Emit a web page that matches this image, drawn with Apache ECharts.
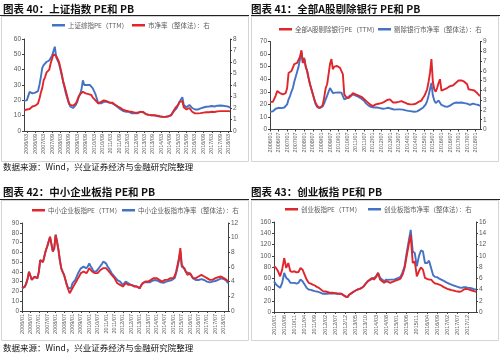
<!DOCTYPE html>
<html><head><meta charset="utf-8">
<script src="https://cdn.jsdelivr.net/npm/echarts@6/dist/echarts.min.js"></script>
<style>html,body{margin:0;padding:0;background:#fff}#c{width:500px;height:357px}</style>
</head><body><div id="c"></div>
<script>
function months(y0, m0, n) {
  const a = [];
  for (let i = 0; i < n; i++) {
    const y = y0 + Math.floor((m0 - 1 + i) / 12), m = (m0 - 1 + i) % 12 + 1;
    a.push(y + '/' + (m < 10 ? '0' + m : m));
  }
  return a;
}
const cat40 = months(2006, 1, 148);
const cat41 = months(2006, 1, 148);
const cat42 = months(2006, 1, 148);
const cat43 = months(2010, 1, 100);

const titles = ['图表 40：上证指数 PE和 PB', '图表 41：全部A股剔除银行 PE和 PB', '图表 42：中小企业板指 PE和 PB', '图表 43：创业板指 PE和 PB'];
const sourceText = '数据来源：Wind，兴业证券经济与金融研究院整理';
const names40 = ['上证综指PE（TTM）', '市净率（整体法）：右'];
const names41 = ['全部A股剔除银行PE（TTM）', '剔除银行市净率（整体法）：右'];
const names42 = ['中小企业板指PE（TTM）', '中小企业板指市净率（整体法）：右'];
const names43 = ['创业板指PE（TTM）', '创业板指市净率（整体法）：右'];

const pe40 = [19.8,19.5,20,21,25.5,26.5,24.5,24,25,25.5,26,30,
35,41,43,44,45,44,46,47,49,52,55,48,
48,44,40,36,32,28,24,21,18,16,15,15,
16,17,19,22,24,27,33,30,29,30,29,30,
30,28,26,24,21,18,18,18,19,19,20,19,
19,18.5,18,18,17.5,17,16.5,15.5,14.5,14,13.5,13,
12.5,12.5,12.8,12.5,12,11.5,11.5,11.5,11.2,11.5,11.8,12.5,
12.8,12.5,11.5,11,10.5,10.5,10,10.2,10.5,10.2,10,9.8,
9.6,9.4,9.3,9.2,9.2,9.3,9.3,9.6,10,10.5,11.5,13,
14,15,17,19,20.5,22,17,16,15.5,16.5,17,16.5,
15,13.8,14,14.2,14,14.5,14.8,15,15.3,15.4,15.8,16,
16,16.2,16.3,16.5,16,16.2,16.5,16.5,16.6,16.8,16.5,16.3,
16.2,15.5,15.8,15.2];
const pb40 = [1.80,1.80,1.87,1.87,1.91,2.00,2.13,2.20,2.20,2.27,2.40,2.80,
3.33,3.73,4.40,4.67,5.07,4.93,5.33,5.87,6.27,6.67,6.67,6.53,
6.53,6.00,5.47,4.93,4.27,3.87,3.41,2.93,2.47,2.27,2.20,2.20,
2.27,2.40,2.67,3.00,3.20,3.33,3.41,3.27,3.27,3.28,3.20,3.13,
3.13,2.93,2.80,2.67,2.53,2.40,2.47,2.53,2.60,2.67,2.67,2.60,
2.53,2.47,2.47,2.47,2.40,2.27,2.20,2.13,2.07,2.00,1.87,1.83,
1.80,1.76,1.73,1.71,1.69,1.67,1.63,1.60,1.57,1.60,1.63,1.67,
1.67,1.63,1.53,1.47,1.44,1.40,1.36,1.37,1.40,1.37,1.36,1.33,
1.31,1.28,1.25,1.24,1.23,1.23,1.23,1.27,1.31,1.36,1.49,1.80,
2.00,2.07,2.27,2.53,2.67,2.60,2.07,1.97,1.87,1.93,2.00,1.87,
1.67,1.53,1.53,1.56,1.53,1.53,1.55,1.57,1.60,1.60,1.63,1.64,
1.63,1.65,1.67,1.68,1.65,1.67,1.71,1.72,1.73,1.76,1.73,1.73,
1.73,1.71,1.73,1.71];

const pe41 = [22,21.5,22,22.5,27,30.5,30,29,28.5,28,28,29,
33,45,46,46.5,48,52,53,53,54.5,58,63,53,
56,50,46.5,41,36,32,28,24,21,19,17.3,17,
18,20,26,33,36,44,52,56,48,50,50,50.5,
51,49,48,44,28,26,25,25,26,27,29,29,
28,27,27,26.6,26,25,24,23,22,21,20,19,
18.6,19,20,20,20.5,21,21,21.5,22,23,23.5,24,
24,23,21.5,21,21.5,21.3,22,22.5,22.6,22,21.5,21,
20.5,20,20,20,20,20,20.5,21,22,22.6,23,25,
26.6,28,32,38,45,56,38,32,30,33,37,40,
31,30,32,33,33,34,34.5,35,35,36,37,38,
39,39.5,39,38.5,38,37.5,36,32,31.5,31.5,31,31,
30.5,29,28.5,26.6];
const pb41 = [1.81,1.80,1.86,1.99,2.12,2.19,2.22,2.19,2.19,2.22,2.25,2.44,
2.57,3.09,3.42,3.86,4.24,4.89,5.40,5.91,6.43,7.20,7.97,6.81,
7.33,6.43,5.98,5.27,4.63,4.11,3.60,3.09,2.57,2.31,2.22,2.19,
2.31,2.39,2.70,3.09,3.47,3.86,4.24,3.99,3.73,3.79,3.77,3.79,
3.79,3.73,3.77,3.60,3.09,3.02,3.21,3.34,3.47,3.60,3.60,3.47,
3.47,3.41,3.34,3.25,3.15,2.96,2.91,2.70,2.57,2.44,2.39,2.29,
2.22,2.25,2.29,2.25,2.22,2.19,2.16,2.12,2.12,2.16,2.19,2.22,
2.19,2.12,2.06,2.03,2.06,2.06,1.99,2.06,2.08,2.03,1.99,1.95,
1.93,1.90,1.88,1.86,1.84,1.81,1.84,1.86,1.93,2.03,2.12,2.22,
2.38,2.57,2.91,3.47,4.11,4.76,3.47,2.96,2.70,2.83,2.96,3.09,
2.51,2.39,2.38,2.38,2.31,2.38,2.44,2.51,2.64,2.74,2.76,2.76,
2.74,2.76,2.76,2.74,2.70,2.64,2.64,2.57,2.51,2.57,2.64,2.64,
2.57,2.64,2.51,2.39];

const pe42 = [23.3,23.5,25,28,33,40,36,32,34,35,34,33.6,
40,52,50,50,56,62,66,71,76,74.7,61,64,
78,71,62.7,52,44,40,37,32,26.7,22,18.2,20,
23.3,26,28.4,31,33.6,36,38.7,40,40.4,39,38.7,41,
43.8,42,40.4,39,38.7,38.7,38.7,40,42,43,43.8,44,
43.8,42,40.4,39,37,35,33.6,31,28.4,27.5,26.7,26,
25,27,28.4,27.5,26.7,26.7,26.7,26,25,25,25,24,
23.3,26,28.4,29.5,30.1,30.1,30.1,31,31.8,32.5,33.6,33.6,
33.6,32.5,31.8,31,30.1,31,31.8,31.8,31.8,32.5,33.6,33.6,
33.6,36,40.4,47,54,64.4,47.3,45,43.8,40,37,38,
38.7,36,33.6,33.6,33.6,34.5,35.3,36,37,36,35.3,34.5,
33.6,32.5,31.8,31.8,31.8,32.5,33.6,34,34.5,35,35.3,34,
33.6,32.5,31.8,30.1];
const pb42 = [3.09,3.1,3.3,3.77,4.4,5.36,4.8,4.23,4.5,4.68,4.5,4.45,
5.3,6.95,6.73,6.7,7.5,8.3,8.8,9.45,10.1,9.9,8.1,8.55,
10.4,9.45,8.32,6.95,5.82,5.36,4.91,4.23,3.55,3.1,2.86,3.1,
3.77,4.0,4.23,4.7,5.14,5.36,5.82,5.9,6.05,5.9,5.82,6.1,
6.5,6.1,5.82,5.4,5.14,5.4,5.59,5.9,6.05,6.4,6.73,6.6,
6.5,6.1,5.82,5.5,5.14,4.9,4.68,4.45,4.23,4.1,4.0,3.77,
3.55,3.77,4.0,3.77,3.77,3.6,3.55,3.5,3.41,3.4,3.32,3.2,
3.09,3.5,3.77,3.9,4.0,3.9,3.77,3.9,4.0,4.1,4.23,4.23,
4.23,4.1,4.0,3.9,3.77,3.85,3.91,4.0,4.0,4.1,4.23,4.23,
4.23,4.5,5.14,6.0,6.95,8.1,6.05,5.9,5.82,5.3,5.14,5.2,
5.36,4.8,4.45,4.3,4.23,4.23,4.23,4.3,4.36,4.3,4.23,4.1,
4.0,3.95,3.91,3.85,4.0,4.05,4.09,4.2,4.23,4.36,4.45,4.4,
4.36,4.23,4.09,3.77];

const pe43 = [81.2,78.2,72.4,63.5,75.3,95.9,78.2,87.1,72.4,71.2,
72.4,70.6,71.2,78.2,75.3,66.5,57.6,51.8,50.6,48.8,
47.1,44.7,42.9,40.0,37.1,36.5,35.9,34.7,34.1,34.1,
33.5,32.9,32.4,32.4,30.0,27.6,26.5,31.2,33.5,35.9,
38.2,40.0,41.2,42.9,45.9,50.6,54.7,57.6,60.6,57.6,
61.8,69.4,57.6,54.7,51.8,54.7,53.5,51.8,53.5,54.7,
56.5,57.6,59.4,66.5,78.2,98.8,119.4,137,87.1,90,
63.5,72.4,79.4,75.3,60.6,58.8,57.6,57.6,53.5,50.6,
50,48.8,47.1,44.7,42.9,41.2,40.0,38.8,38.2,37.1,
36.5,35.9,37.1,40.0,41.2,40.6,39.4,38.2,37.1,35.9];
const pb43 = [5.47,4.88,4.59,4.29,5.18,6.94,6.06,5.76,5.18,5.18,
5.18,5.06,5.18,5.76,5.47,4.88,4.29,4.0,3.94,3.82,
3.71,3.65,3.53,3.41,3.24,3.24,3.24,3.29,3.29,3.29,
3.29,3.24,3.24,3.24,3.0,2.76,2.65,3.12,3.35,3.59,
3.82,4.0,4.12,4.29,4.59,5.06,5.47,5.65,5.88,6.06,
6.35,6.94,6.06,5.76,5.47,5.76,5.71,5.76,5.76,5.76,
5.94,6.06,6.24,7.06,8.12,10.47,12.53,14.6,10.76,10.47,
8.12,9.88,10.94,10.76,8.71,8.71,9.12,7.82,6.53,6.24,
6.18,5.94,5.76,5.59,5.35,5.18,5.0,4.88,4.71,4.59,
4.47,4.35,4.29,4.41,4.41,4.29,4.29,4.18,4.06,4.0];

const BLUE = '#4472c4', RED = '#e0262b';
const FONT = '"Noto Sans CJK SC", sans-serif';
const axisCol = '#404040', lblCol = '#595959';

const grids = [
  {left: 24, top: 39, width: 206, height: 92},
  {left: 270, top: 41.5, width: 210, height: 88},
  {left: 22, top: 223, width: 206, height: 88},
  {left: 274, top: 222, width: 202, height: 90}
];
const cats = [cat40, cat41, cat42, cat43];
const labelStep = [[6, 2], [6, 0], [6, 0], [5, 0]];
const leftAx = [[60, 10], [70, 10], [90, 10], [160, 20]];
const rightAx = [[8, 1], [9, 1], [12, 2], [16, 2]];

const xAxis = cats.map((c, i) => ({
  type: 'category', gridIndex: i, data: c, boundaryGap: false,
  axisLine: {lineStyle: {color: axisCol, width: 1}},
  axisTick: {show: true, length: 2, lineStyle: {color: axisCol},
    interval: (idx) => idx % labelStep[i][0] === labelStep[i][1]},
  axisLabel: {rotate: 90, fontSize: 5.5, color: lblCol, margin: 3, fontFamily: 'Liberation Sans',
    interval: (idx) => idx % labelStep[i][0] === labelStep[i][1]}
}));
const yAxis = [];
for (let i = 0; i < 4; i++) {
  yAxis.push({type: 'value', gridIndex: i, min: 0, max: leftAx[i][0], interval: leftAx[i][1], position: 'left',
    axisLine: {show: true, lineStyle: {color: axisCol}}, axisTick: {show: true, length: 2},
    splitLine: {show: false}, axisLabel: {fontSize: 6.5, color: lblCol, margin: 3, fontFamily: 'Liberation Sans'}});
  yAxis.push({type: 'value', gridIndex: i, min: 0, max: rightAx[i][0], interval: rightAx[i][1], position: 'right',
    axisLine: {show: true, lineStyle: {color: axisCol}}, axisTick: {show: true, length: 2},
    splitLine: {show: false}, axisLabel: {fontSize: 6.5, color: lblCol, margin: 3, fontFamily: 'Liberation Sans'}});
}
function ln(name, data, gi, yi, color) {
  return {type: 'line', name, data, xAxisIndex: gi, yAxisIndex: yi, showSymbol: false, symbol: 'none',
    lineStyle: {width: 1.9, color}, itemStyle: {color}, animation: false};
}
const series = [
  ln(names40[0], pe40, 0, 0, BLUE), ln(names40[1], pb40, 0, 1, RED),
  ln(names41[1], pb41, 1, 3, BLUE), ln(names41[0], pe41, 1, 2, RED),
  ln(names42[1], pb42, 2, 5, BLUE), ln(names42[0], pe42, 2, 4, RED),
  ln(names43[1], pb43, 3, 7, BLUE), ln(names43[0], pe43, 3, 6, RED)
];
function lg(name, left, top) {
  return {data: [{name, icon: 'rect'}], left, top, itemWidth: 13, itemHeight: 2.5, padding: 0, itemGap: 0,
    textStyle: {fontSize: 6.5, color: lblCol, fontFamily: FONT, padding: [0, 0, 0, -2]}, selectedMode: false};
}
const legend = [
  lg(names40[0], 52, 22), lg(names40[1], 132, 22),
  lg(names41[0], 279, 26), lg(names41[1], 378, 26),
  lg(names42[0], 32, 207), lg(names42[1], 122, 207),
  lg(names43[0], 285, 206), lg(names43[1], 368, 206)
];
function txt(t, x, y, size, weight) {
  return {type: 'text', left: x, top: y, style: {text: t, fontSize: size, fontWeight: weight, fill: '#111', fontFamily: FONT}};
}
function hl(x1, y, x2, color, w) {
  return {type: 'line', shape: {x1, y1: y, x2, y2: y}, style: {stroke: color, lineWidth: w}};
}
function box(x, y, w, h) {
  return {type: 'rect', shape: {x, y, width: w, height: h}, style: {fill: 'none', stroke: '#d4d4d4', lineWidth: 1}};
}
const graphic = [
  box(1.5, 16.5, 247, 145), box(251.5, 16.5, 247, 145),
  box(1.5, 200.5, 247, 140), box(251.5, 200.5, 247, 140),
  hl(0, 15.5, 249, '#222', 1), hl(251, 15.5, 500, '#222', 1),
  hl(0, 199.5, 249, '#222', 1), hl(251, 199.5, 500, '#222', 1),
  txt(titles[0], 3, 3.5, 10.5, 'bold'), txt(titles[1], 251, 3.5, 10.5, 'bold'),
  txt(titles[2], 3, 187, 10.5, 'bold'), txt(titles[3], 251, 187, 10.5, 'bold'),
  txt(sourceText, 3, 163, 8.5, 'normal'), txt(sourceText, 3, 344, 8.5, 'normal')
];
const chart = echarts.init(document.getElementById('c'), null, {renderer: 'canvas'});
chart.setOption({animation: false, backgroundColor: '#fff', grid: grids, xAxis, yAxis, series, legend, graphic});
</script></body></html>
